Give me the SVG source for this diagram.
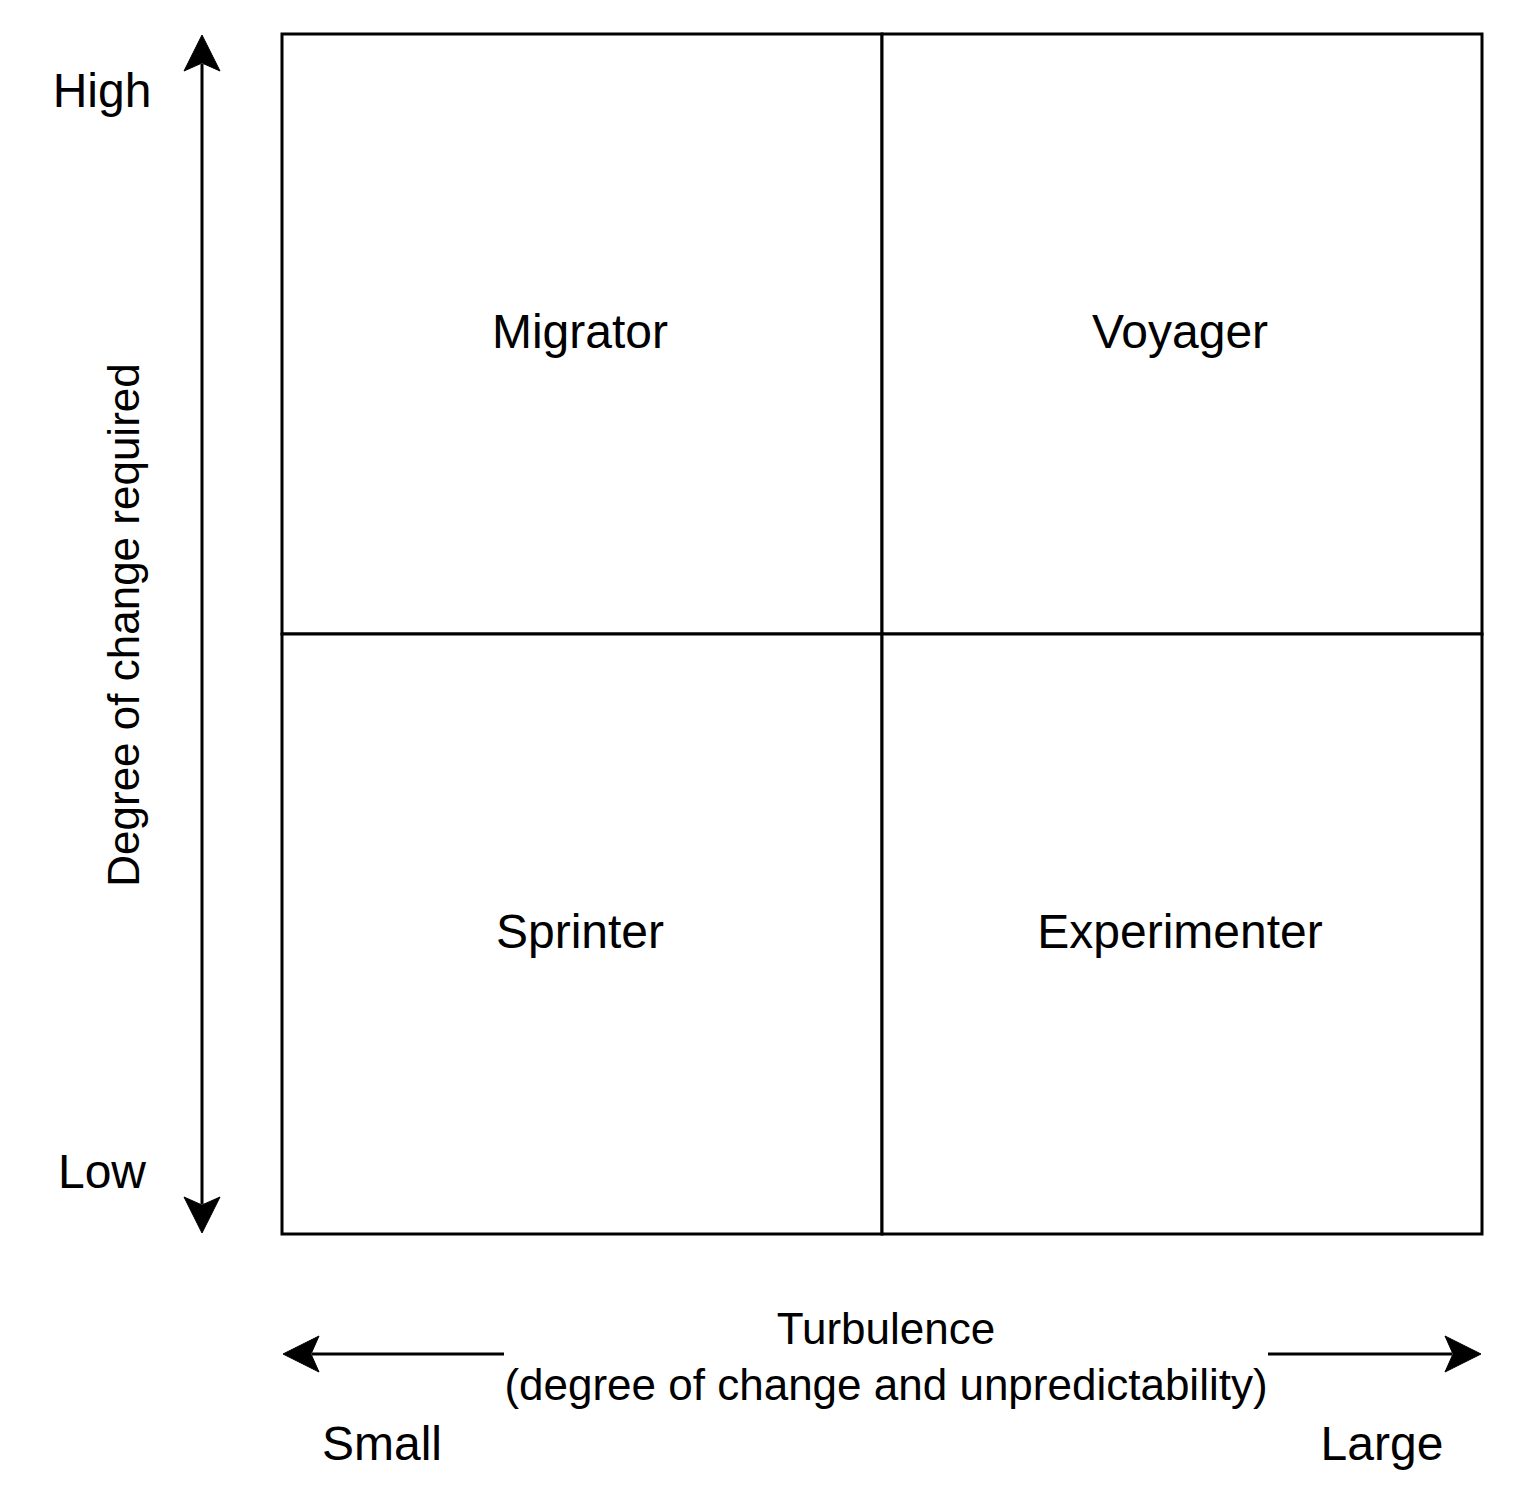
<svg xmlns="http://www.w3.org/2000/svg" xmlns:xlink="http://www.w3.org/1999/xlink" width="1520" height="1508" viewBox="0 0 1520 1508">
<style>
.cell{fill:#fff;stroke:#000;stroke-width:3}
.ln{stroke:#000;stroke-width:3;fill:none}
.big{font-family:"Liberation Sans",Arial,Helvetica,sans-serif;font-size:48px;fill:#000}
.mid{font-family:"Liberation Sans",Arial,Helvetica,sans-serif;font-size:44px;fill:#000}
.ah{fill:#000;stroke:#000;stroke-width:1}
</style>
<defs>
<path id="head" d="M0,0 L-36,-18 L-28,0 L-36,18 Z"/>
</defs>
<rect width="1520" height="1508" fill="#fff"/>
<g id="migrator"><rect class="cell" x="282" y="34" width="600" height="600"/><text class="big" x="580" y="348" text-anchor="middle">Migrator</text></g>
<g id="voyager"><rect class="cell" x="882" y="34" width="600" height="600"/><text class="big" x="1180" y="348" text-anchor="middle">Voyager</text></g>
<g id="sprinter"><rect class="cell" x="282" y="634" width="600" height="600"/><text class="big" x="580" y="948" text-anchor="middle">Sprinter</text></g>
<g id="experimenter"><rect class="cell" x="882" y="634" width="600" height="600"/><text class="big" x="1180" y="948" text-anchor="middle">Experimenter</text></g>
<g id="connectors">
<line class="ln" x1="202" y1="64" x2="202" y2="1204"/>
<use xlink:href="#head" class="ah" transform="translate(202,35) rotate(-90)"/>
<use xlink:href="#head" class="ah" transform="translate(202,1233) rotate(90)"/>
<line class="ln" x1="312" y1="1354" x2="504" y2="1354"/>
<use xlink:href="#head" class="ah" transform="translate(283,1354) rotate(180)"/>
<line class="ln" x1="1268" y1="1354" x2="1452" y2="1354"/>
<use xlink:href="#head" class="ah" transform="translate(1481,1354)"/>
</g>
<g id="labels">
<text class="big" x="102" y="107" text-anchor="middle">High</text>
<text class="big" x="102" y="1188" text-anchor="middle">Low</text>
<text class="mid" transform="translate(139,625) rotate(-90)" text-anchor="middle">Degree of change required</text>
<text class="mid" x="886" y="1344" text-anchor="middle">Turbulence</text>
<text class="mid" x="886" y="1400" text-anchor="middle">(degree of change and unpredictability)</text>
<text class="big" x="382" y="1460" text-anchor="middle">Small</text>
<text class="big" x="1382" y="1460" text-anchor="middle">Large</text>
</g>
</svg>
